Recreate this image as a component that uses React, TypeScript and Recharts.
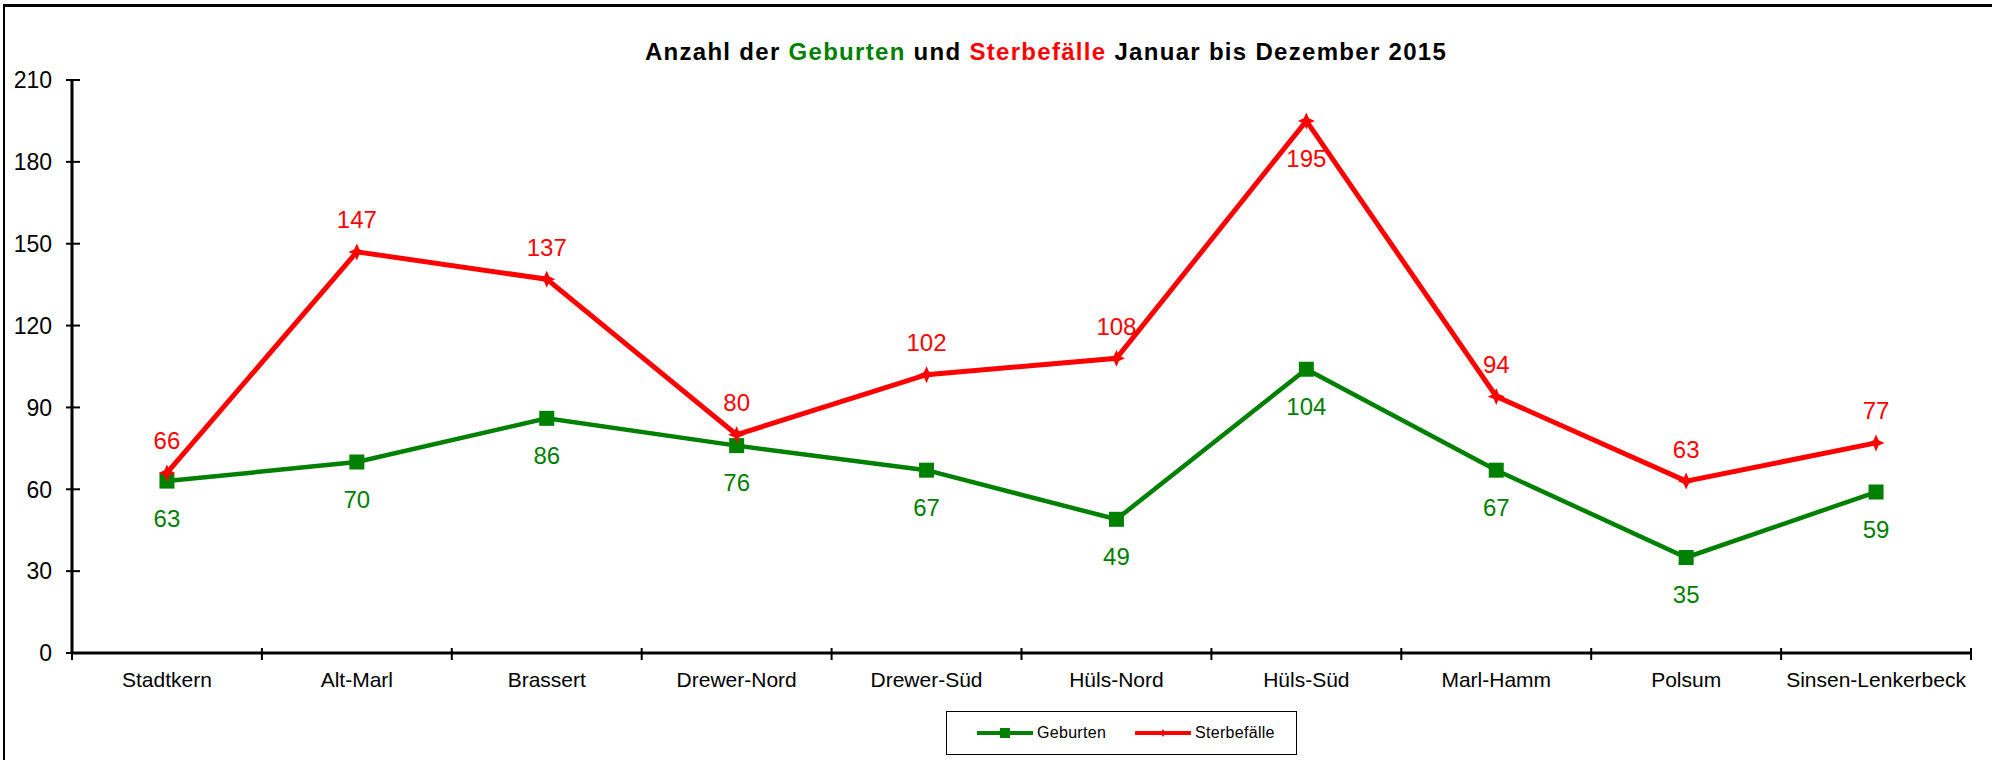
import React from 'react';
import { LineChart, Line, XAxis, YAxis, Legend } from 'recharts';

// ---- data ----
const categories = [
  'Stadtkern',
  'Alt-Marl',
  'Brassert',
  'Drewer-Nord',
  'Drewer-Süd',
  'Hüls-Nord',
  'Hüls-Süd',
  'Marl-Hamm',
  'Polsum',
  'Sinsen-Lenkerbeck',
];
const geburten = [63, 70, 86, 76, 67, 49, 104, 67, 35, 59];
const sterbefaelle = [66, 147, 137, 80, 102, 108, 195, 94, 63, 77];
const yTicks = [0, 30, 60, 90, 120, 150, 180, 210];
const sterbeLabelsBelow = ['Hüls-Süd'];

const data = categories.map((name, i) => ({
  name,
  Geburten: geburten[i],
  Sterbefaelle: sterbefaelle[i],
}));

// ---- layout / style ----
const W = 1992;
const H = 760;
const FONT = '"Liberation Sans", Arial, Helvetica, sans-serif';
const GREEN = '#008000';
const RED = '#FF0000';
const M_TOP = 80;
const M_RIGHT = 21;
const Y_W = 72;
const X_H = 40;
const M_BOTTOM = H - 653 - X_H;
const PLOT_BOTTOM = H - M_BOTTOM - X_H;
const HALF_STEP = (W - Y_W - M_RIGHT) / categories.length / 2;

const XTick = (props: any) => {
  const { x, payload } = props;
  const isLast = payload.value === categories[categories.length - 1];
  return (
    <g>
      <line x1={x - HALF_STEP} x2={x - HALF_STEP} y1={PLOT_BOTTOM - 5} y2={PLOT_BOTTOM + 7} stroke="#000" strokeWidth={2} />
      {isLast && (
        <line x1={x + HALF_STEP} x2={x + HALF_STEP} y1={PLOT_BOTTOM - 5} y2={PLOT_BOTTOM + 7} stroke="#000" strokeWidth={2} />
      )}
      <text x={x} y={PLOT_BOTTOM + 34} textAnchor="middle" fontSize={21} fontFamily={FONT} fill="#000">
        {payload.value}
      </text>
    </g>
  );
};

const YTick = (props: any) => {
  const { y, payload } = props;
  return (
    <g>
      <line x1={Y_W - 6} x2={Y_W + 8} y1={y} y2={y} stroke="#000" strokeWidth={2} />
      <text x={Y_W - 20} y={y} dy="0.36em" textAnchor="end" fontSize={23} fontFamily={FONT} fill="#000">
        {payload.value}
      </text>
    </g>
  );
};

const SquareDot = (props: any) => {
  const { cx, cy, index } = props;
  if (cx == null || cy == null) return <g key={`sq-${index}`} />;
  return <rect key={`sq-${index}`} x={cx - 7.5} y={cy - 7.5} width={15} height={15} fill={GREEN} />;
};

const StarDot = (props: any) => {
  const { cx, cy, index } = props;
  if (cx == null || cy == null) return <g key={`st-${index}`} />;
  const r = 8.5;
  const i = 2.6;
  const d = `M${cx},${cy - r} L${cx + i},${cy - i} L${cx + r},${cy} L${cx + i},${cy + i} L${cx},${cy + r} L${cx - i},${cy + i} L${cx - r},${cy} L${cx - i},${cy - i} Z`;
  return <path key={`st-${index}`} d={d} fill={RED} />;
};

const GebLabel = (props: any) => {
  const x = props.x ?? props.viewBox?.x;
  const y = props.y ?? props.viewBox?.y;
  return (
    <text x={x} y={y + 37} textAnchor="middle" dominantBaseline="central" fontSize={24} fontFamily={FONT} fill={GREEN}>
      {props.value}
    </text>
  );
};

const SterbeLabel = (props: any) => {
  const x = props.x ?? props.viewBox?.x;
  const y = props.y ?? props.viewBox?.y;
  const below = sterbeLabelsBelow.includes(categories[props.index]);
  return (
    <text x={x} y={below ? y + 38 : y - 32} textAnchor="middle" dominantBaseline="central" fontSize={24} fontFamily={FONT} fill={RED}>
      {props.value}
    </text>
  );
};

const renderLegend = (props: any) => {
  const payload = props.payload || [];
  const xs = [30, 188];
  return (
    <div
      style={{
        position: 'relative',
        width: 351,
        height: 44,
        border: '1.5px solid #000',
        boxSizing: 'border-box',
        fontFamily: FONT,
        fontSize: 16,
        background: '#fff',
      }}
    >
      {payload.map((entry: any, i: number) => (
        <div key={i} style={{ position: 'absolute', left: xs[i], top: 0, height: 41, display: 'flex', alignItems: 'center' }}>
          <svg width={56} height={16} style={{ display: 'block' }}>
            <line x1={0} x2={56} y1={8} y2={8} stroke={entry.color} strokeWidth={4} />
            {i === 0 ? (
              <rect x={23} y={3} width={10} height={10} fill={entry.color} />
            ) : (
              <path d="M28,4 L29.5,6.5 L32,8 L29.5,9.5 L28,12 L26.5,9.5 L24,8 L26.5,6.5 Z" fill={entry.color} />
            )}
          </svg>
          <span style={{ marginLeft: 4, color: '#000', letterSpacing: 0.3 }}>{entry.value}</span>
        </div>
      ))}
    </div>
  );
};

export default function App() {
  return (
    <div style={{ position: 'absolute', left: 0, top: 0, width: W, height: H, overflow: 'hidden', background: '#fff' }}>
      <div
        style={{
          position: 'absolute',
          left: 3,
          top: 4,
          width: 2200,
          height: 1000,
          borderTop: '3px solid #000',
          borderLeft: '2px solid #000',
        }}
      />
      <div style={{ position: 'absolute', left: 0, top: 0 }}>
        <LineChart width={W} height={H} data={data} margin={{ top: M_TOP, right: M_RIGHT, bottom: M_BOTTOM, left: 0 }}>
          <XAxis
            xAxisId="top"
            orientation="top"
            dataKey="name"
            height={0}
            tick={false}
            tickLine={false}
            axisLine={{ stroke: '#808080', strokeWidth: 2 }}
          />
          <YAxis
            yAxisId="right"
            orientation="right"
            width={0}
            domain={[0, 210]}
            tick={false}
            tickLine={false}
            axisLine={{ stroke: '#808080', strokeWidth: 2 }}
          />
          <XAxis
            dataKey="name"
            height={X_H}
            interval={0}
            padding={{ left: HALF_STEP, right: HALF_STEP }}
            axisLine={{ stroke: '#000', strokeWidth: 3 }}
            tickLine={false}
            tick={<XTick />}
          />
          <YAxis
            width={Y_W}
            domain={[0, 210]}
            ticks={yTicks}
            interval={0}
            axisLine={{ stroke: '#000', strokeWidth: 3 }}
            tickLine={false}
            tick={<YTick />}
          />
          <Legend
            verticalAlign="middle"
            align="center"
            layout="horizontal"
            content={renderLegend}
            wrapperStyle={{ left: 946, top: 711, width: 351, height: 44 }}
          />
          <Line
            type="linear"
            dataKey="Geburten"
            name="Geburten"
            stroke={GREEN}
            strokeWidth={4.5}
            dot={SquareDot}
            activeDot={false}
            isAnimationActive={false}
            label={GebLabel}
          />
          <Line
            type="linear"
            dataKey="Sterbefaelle"
            name="Sterbefälle"
            stroke={RED}
            strokeWidth={5}
            dot={StarDot}
            activeDot={false}
            isAnimationActive={false}
            label={SterbeLabel}
          />
        </LineChart>
      </div>
      <div
        style={{
          position: 'absolute',
          left: 1046,
          top: 40,
          transform: 'translateX(-50%)',
          whiteSpace: 'nowrap',
          fontFamily: FONT,
          fontWeight: 'bold',
          fontSize: 24,
          lineHeight: '24px',
          letterSpacing: 1.3,
          color: '#000',
        }}
      >
        Anzahl der <span style={{ color: GREEN }}>Geburten</span> und{' '}
        <span style={{ color: RED }}>Sterbefälle</span> Januar bis Dezember 2015
      </div>
    </div>
  );
}
